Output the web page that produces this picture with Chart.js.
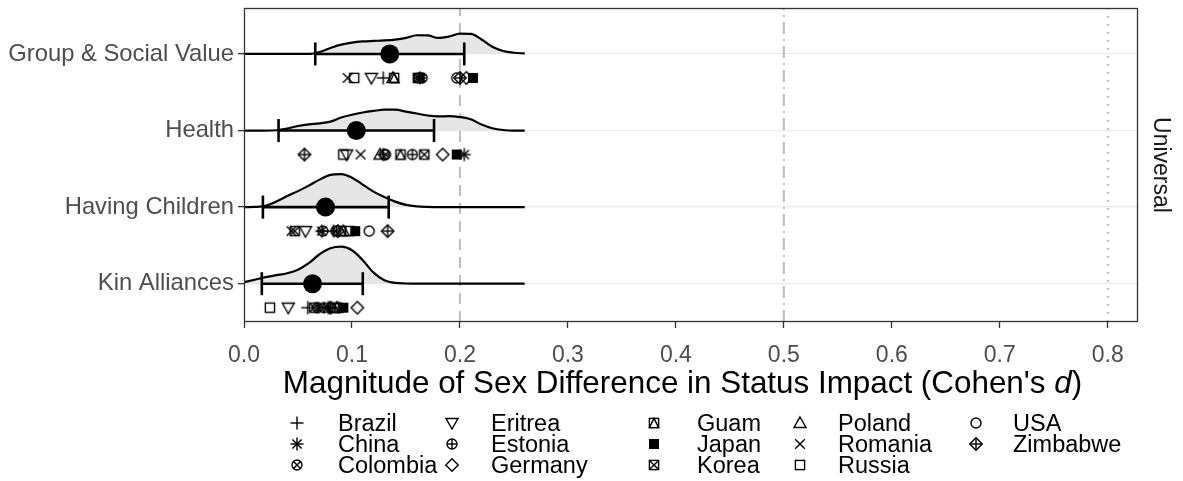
<!DOCTYPE html>
<html><head><meta charset="utf-8">
<script src="https://cdn.jsdelivr.net/npm/chart.js@4/dist/chart.umd.min.js"></script>
<style>
html,body{margin:0;padding:0;background:#fff;}
#wrap{position:relative;width:1183px;height:481px;overflow:hidden;}
#c{position:absolute;left:0;top:0;width:1183px;height:481px;}
#legend{position:absolute;left:0;top:0;width:1183px;height:481px;pointer-events:none;font-family:"Liberation Sans",Arial,sans-serif;font-size:23.5px;color:#000;}
.lt{position:absolute;white-space:nowrap;height:22px;line-height:22px;}
.ls{position:absolute;}
#xtitle{position:absolute;left:0;width:1365px;text-align:center;top:365px;height:36px;line-height:36px;font-family:"Liberation Sans",Arial,sans-serif;font-size:31.4px;color:#000;white-space:nowrap;}
</style></head><body>
<div id="wrap"><canvas id="c" width="1183" height="481"></canvas><div id="legend"></div><div id="xtitle"></div></div>
<script>
// ---------------- DATA ----------------
const categories = ["Group & Social Value", "Health", "Having Children", "Kin Alliances"];
const categoryPos = [4, 3, 2, 1];
const xTickValues = [0, 0.1, 0.2, 0.3, 0.4, 0.5, 0.6, 0.7, 0.8];
const refLineValues = [0.2, 0.5, 0.8];
const xTitleMain = "Magnitude of Sex Difference in Status Impact (Cohen's ";
const xTitleItalic = "d";
const stripLabel = "Universal";

const countries = ["Brazil", "China", "Colombia", "Eritrea", "Estonia", "Germany", "Guam",
                   "Japan", "Korea", "Poland", "Romania", "Russia", "USA", "Zimbabwe"];
const countryShapes = ["plus", "asterisk", "circleX", "triDown", "circlePlus", "diamond", "squareTri",
                       "squareFill", "squareX", "triUp", "x", "square", "circle", "diamondPlus"];

// Cohen's d per country (country order above), one array per domain
const groupValues    = [0.129, 0.163, 0.165, 0.118, 0.162, 0.206, 0.139, 0.212, 0.161, 0.138, 0.096, 0.102, 0.197, 0.200];
const healthValues   = [0.129, 0.204, 0.131, 0.095, 0.156, 0.184, 0.145, 0.197, 0.167, 0.126, 0.108, 0.092, 0.130, 0.056];
const childrenValues = [0.083, 0.072, 0.085, 0.057, 0.073, 0.087, 0.090, 0.103, 0.047, 0.092, 0.044, 0.098, 0.116, 0.133];
const kinValues      = [0.059, 0.078, 0.068, 0.041, 0.074, 0.105, 0.083, 0.092, 0.065, 0.086, 0.070, 0.024, 0.088, 0.080];

const meanValues = [0.135, 0.104, 0.0755, 0.0635];
const ciLow      = [0.066, 0.032, 0.0175, 0.0165];
const ciHigh     = [0.204, 0.176, 0.134, 0.110];

// density curves (height in ridge units) on a common grid
const densityX = [0, 0.01, 0.02, 0.03, 0.04, 0.05, 0.06, 0.07, 0.08, 0.09, 0.10, 0.11, 0.12, 0.13,
                  0.14, 0.15, 0.16, 0.17, 0.18, 0.19, 0.20, 0.21, 0.22, 0.23, 0.24, 0.25, 0.26];
const densityGroup    = [0, 0, 0, 0, 0, 0, 0, 0.026, 0.078, 0.121, 0.148, 0.163, 0.170, 0.176,
                         0.187, 0.209, 0.244, 0.242, 0.209, 0.228, 0.265, 0.261, 0.189, 0.095, 0.039, 0.016, 0.007];
const densityHealth   = [0, 0, 0, 0.004, 0.026, 0.059, 0.081, 0.094, 0.117, 0.170, 0.206, 0.235, 0.256, 0.272,
                         0.272, 0.248, 0.222, 0.196, 0.185, 0.187, 0.176, 0.148, 0.078, 0.030, 0.007, 0, 0];
const densityChildren = [0, 0.003, 0.016, 0.072, 0.144, 0.209, 0.281, 0.359, 0.422, 0.431, 0.385, 0.294, 0.202, 0.131,
                         0.072, 0.030, 0.010, 0.003, 0, 0, 0, 0, 0, 0, 0, 0, 0];
const densityKin      = [0.020, 0.052, 0.085, 0.111, 0.137, 0.183, 0.268, 0.385, 0.463, 0.483, 0.437, 0.307, 0.144, 0.046,
                         0.010, 0.003, 0, 0, 0, 0, 0, 0, 0, 0, 0, 0, 0];

// ---------------- STYLE ----------------
const FONT = '"Liberation Sans", Arial, Helvetica, sans-serif';
const pointRowOffset = 0.313;
const yMin = 0.5, yMax = 4.6, xMin = 0, xMax = 0.828;

function makeSymbol(shape, size) {
  const cv = document.createElement('canvas');
  cv.width = size; cv.height = size;
  const c = cv.getContext('2d');
  const m = size / 2;
  c.strokeStyle = '#000'; c.fillStyle = '#000'; c.lineWidth = 1.4;
  const line = (x1, y1, x2, y2) => { c.beginPath(); c.moveTo(x1, y1); c.lineTo(x2, y2); c.stroke(); };
  const sq = () => c.strokeRect(m - 4.6, m - 4.6, 9.2, 9.2);
  const circ = () => { c.beginPath(); c.arc(m, m, 5, 0, Math.PI * 2); c.stroke(); };
  const dia = () => { c.beginPath(); c.moveTo(m, m - 6.2); c.lineTo(m + 6.2, m); c.lineTo(m, m + 6.2); c.lineTo(m - 6.2, m); c.closePath(); c.stroke(); };
  switch (shape) {
    case 'plus': line(m - 6.5, m, m + 6.5, m); line(m, m - 6.5, m, m + 6.5); break;
    case 'x': line(m - 4.8, m - 4.8, m + 4.8, m + 4.8); line(m - 4.8, m + 4.8, m + 4.8, m - 4.8); break;
    case 'asterisk':
      line(m - 6.5, m, m + 6.5, m); line(m, m - 6.5, m, m + 6.5);
      line(m - 4.6, m - 4.6, m + 4.6, m + 4.6); line(m - 4.6, m + 4.6, m + 4.6, m - 4.6); break;
    case 'square': sq(); break;
    case 'squareFill': c.fillRect(m - 5, m - 5, 10, 10); break;
    case 'squareX': sq(); line(m - 4.6, m - 4.6, m + 4.6, m + 4.6); line(m - 4.6, m + 4.6, m + 4.6, m - 4.6); break;
    case 'squareTri': sq(); c.beginPath(); c.moveTo(m, m - 4.6); c.lineTo(m + 4.6, m + 4.6); c.lineTo(m - 4.6, m + 4.6); c.closePath(); c.stroke(); break;
    case 'circle': circ(); break;
    case 'circlePlus': circ(); line(m - 5, m, m + 5, m); line(m, m - 5, m, m + 5); break;
    case 'circleX': circ(); line(m - 3.5, m - 3.5, m + 3.5, m + 3.5); line(m - 3.5, m + 3.5, m + 3.5, m - 3.5); break;
    case 'triUp': c.beginPath(); c.moveTo(m, m - 6); c.lineTo(m + 6, m + 4.5); c.lineTo(m - 6, m + 4.5); c.closePath(); c.stroke(); break;
    case 'triDown': c.beginPath(); c.moveTo(m, m + 6); c.lineTo(m + 6, m - 4.5); c.lineTo(m - 6, m - 4.5); c.closePath(); c.stroke(); break;
    case 'diamond': dia(); break;
    case 'diamondPlus': dia(); line(m - 6.2, m, m + 6.2, m); line(m, m - 6.2, m, m + 6.2); break;
  }
  return cv;
}

const symbols = countryShapes.map(s => makeSymbol(s, 16));
const densities = [densityGroup, densityHealth, densityChildren, densityKin];
const countryValues = [groupValues, healthValues, childrenValues, kinValues];

const datasets = [];
// reference lines
const refDash = [[11, 7], [12, 5, 2, 5], [2, 6]];
refLineValues.forEach((v, i) => datasets.push({
  data: [{x: v, y: yMin}, {x: v, y: yMax}], showLine: true, borderColor: '#bdbdbd', borderWidth: 2,
  borderDash: refDash[i], pointRadius: 0, order: 100
}));
// density ridges
categoryPos.forEach((p, k) => datasets.push({
  data: densityX.map((x, i) => ({x: x, y: p + densities[k][i]})), showLine: true,
  borderColor: '#000', borderWidth: 2.2, backgroundColor: '#e6e6e6', fill: {value: p},
  pointRadius: 0, cubicInterpolationMode: 'monotone', order: 50
}));
// CI bars
categoryPos.forEach((p, k) => datasets.push({
  data: [{x: ciLow[k], y: p}, {x: ciHigh[k], y: p}], showLine: true, borderColor: '#000', borderWidth: 2.6,
  pointStyle: 'line', rotation: 90, pointRadius: 11.5, pointBorderWidth: 2.6, pointBorderColor: '#000', order: 30
}));
// means
datasets.push({
  data: categoryPos.map((p, k) => ({x: meanValues[k], y: p})), pointStyle: 'circle', pointRadius: 9.5,
  backgroundColor: '#000', borderWidth: 0, order: 20
});
// countries
countries.forEach((name, i) => datasets.push({
  label: name,
  data: categoryPos.map((p, k) => ({x: countryValues[k][i], y: p - pointRowOffset})),
  pointStyle: symbols[i], pointRadius: 5, order: 10
}));

const panelBorder = {
  id: 'panelBorder',
  afterDraw(chart) {
    const a = chart.chartArea, c = chart.ctx;
    c.save(); c.strokeStyle = '#333'; c.lineWidth = 1.3;
    c.strokeRect(a.left + 0.5, a.top + 0.5, a.right - a.left - 1, a.bottom - a.top - 1);
    c.restore();
  }
};

new Chart(document.getElementById('c'), {
  type: 'scatter',
  data: {datasets},
  options: {
    responsive: false, animation: false, events: [],
    layout: {autoPadding: false, padding: {left: 0, right: 0, top: 8, bottom: 79}},
    plugins: {legend: {display: false}, tooltip: {enabled: false}},
    scales: {
      x: {
        type: 'linear', min: xMin, max: xMax, position: 'bottom',
        afterBuildTicks(s) { s.ticks = xTickValues.map(v => ({value: v})); },
        ticks: {callback: v => Number(v).toFixed(1), color: '#4d4d4d', font: {family: FONT, size: 23}, padding: 14, maxRotation: 0, autoSkip: false},
        grid: {drawOnChartArea: false, drawTicks: true, tickLength: 6, tickColor: '#333', tickWidth: 1.3},
        border: {display: false},
        title: {display: false},
        afterFit(s) { s.height = 80; s.paddingLeft = 0; s.paddingRight = 0; }
      },
      y: {
        type: 'linear', min: yMin, max: yMax, position: 'left',
        afterBuildTicks(s) { s.ticks = categoryPos.map(v => ({value: v})); },
        ticks: {callback: v => categories[categoryPos.indexOf(v)], color: '#4d4d4d', font: {family: FONT, size: 23.8}, padding: 4, autoSkip: false},
        grid: {color: '#ebebeb', lineWidth: 1.3, drawTicks: true, tickLength: 6, tickColor: '#333', tickWidth: 1.3},
        border: {display: false},
        afterFit(s) { s.width = 244; s.paddingTop = 0; s.paddingBottom = 0; }
      },
      y2: {
        type: 'linear', min: yMin, max: yMax, position: 'right',
        ticks: {display: false}, grid: {display: false}, border: {display: false},
        title: {display: true, text: stripLabel, color: '#1a1a1a', font: {family: FONT, size: 23}, padding: {top: 9, bottom: 0}},
        afterFit(s) { s.width = 45; s.paddingTop = 0; s.paddingBottom = 0; }
      }
    }
  },
  plugins: [panelBorder]
});

// ---------------- X TITLE (HTML, italic d) ----------------
const xt = document.getElementById('xtitle');
xt.appendChild(document.createTextNode(xTitleMain));
const it = document.createElement('i'); it.textContent = xTitleItalic; xt.appendChild(it);
xt.appendChild(document.createTextNode(")"));

// ---------------- LEGEND (HTML) ----------------
const legendSymX = [297, 452, 654, 800, 976];
const legendTextX = [338, 491, 697, 838, 1013];
const legendRowY = [423, 444, 465];
const lg = document.getElementById('legend');
countries.forEach((name, i) => {
  const col = Math.floor(i / 3), row = i % 3;
  const s = makeSymbol(countryShapes[i], 16);
  s.className = 'ls';
  s.style.left = (legendSymX[col] - 8) + 'px';
  s.style.top = (legendRowY[row] - 8) + 'px';
  lg.appendChild(s);
  const t = document.createElement('div');
  t.className = 'lt'; t.textContent = name;
  t.style.left = legendTextX[col] + 'px';
  t.style.top = (legendRowY[row] - 11) + 'px';
  lg.appendChild(t);
});
</script>
</body></html>
